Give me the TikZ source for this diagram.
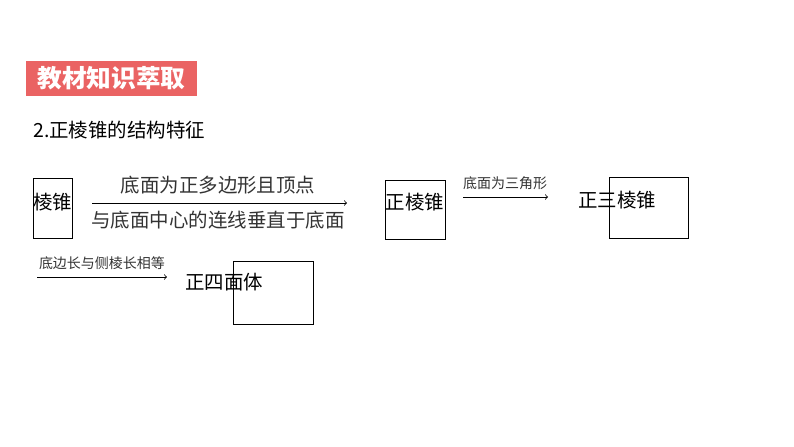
\documentclass[tikz,border=0pt]{standalone}
\usepackage{fontspec}
\newfontfamily\cjk{Noto Sans CJK SC}
\usetikzlibrary{positioning}
\definecolor{bannerred}{RGB}{234,99,99}

\begin{document}
\begin{tikzpicture}[x=0.75pt, y=-0.75pt, font=\cjk,
    box/.style={draw, line width=0.6pt, inner sep=0pt},
    big/.style={font=\cjk\fontsize{14.6pt}{16pt}\selectfont, inner sep=0pt},
    small/.style={font=\cjk\fontsize{10.5pt}{12pt}\selectfont, text=black!80, inner sep=0pt}]
    \useasboundingbox (0,0) rectangle (794,447);

    % Banner
    \node[fill=bannerred, minimum width=128.25pt, minimum height=26.25pt, inner sep=0pt,
          text=white, font=\cjk\bfseries\fontsize{18.5pt}{20pt}\selectfont]
        (banner) at (111.5,78.5) {教材知识萃取};
    \node[big, anchor=west] (title) at (33,130) {2.正棱锥的结构特征};

    % Boxes
    \node[box, minimum width=29.25pt, minimum height=45pt] (b1) at (52.5,208) {};
    \node[box, minimum width=45pt, minimum height=44.25pt] (b2) at (415,209.5) {};
    \node[box, minimum width=59.25pt, minimum height=45.75pt] (b3) at (648.5,207.5) {};
    \node[box, minimum width=60pt, minimum height=47.25pt] (b4) at (273,292.5) {};

    % Box texts
    \node[big] (t1) at (53,202) {棱锥};
    \node[big] (t2) at (415,202) {正棱锥};
    \node[big] (t3) at (617,200) {正三棱锥};
    \node[big] (t4) at (224,282) {正四面体};

    % Arrow 1
    \coordinate (a1s) at (92,203);
    \coordinate (a1e) at (347,203);
    \draw[->, line width=0.6pt] (a1s) -- (a1e);
    \node[big, text=black!80] (l1a) at (218,185) {底面为正多边形且顶点};
    \node[big, text=black!80] (l1b) at (218,220) {与底面中心的连线垂直于底面};

    % Arrow 2
    \coordinate (a2s) at (463,197);
    \coordinate (a2e) at (548,197);
    \draw[->, line width=0.6pt] (a2s) -- (a2e);
    \node[small] (l2) at (505,183) {底面为三角形};

    % Arrow 3
    \coordinate (a3s) at (37,277);
    \coordinate (a3e) at (167,277);
    \draw[->, line width=0.6pt] (a3s) -- (a3e);
    \node[small] (l3) at (102,263) {底边长与侧棱长相等};
\end{tikzpicture}
\end{document}
